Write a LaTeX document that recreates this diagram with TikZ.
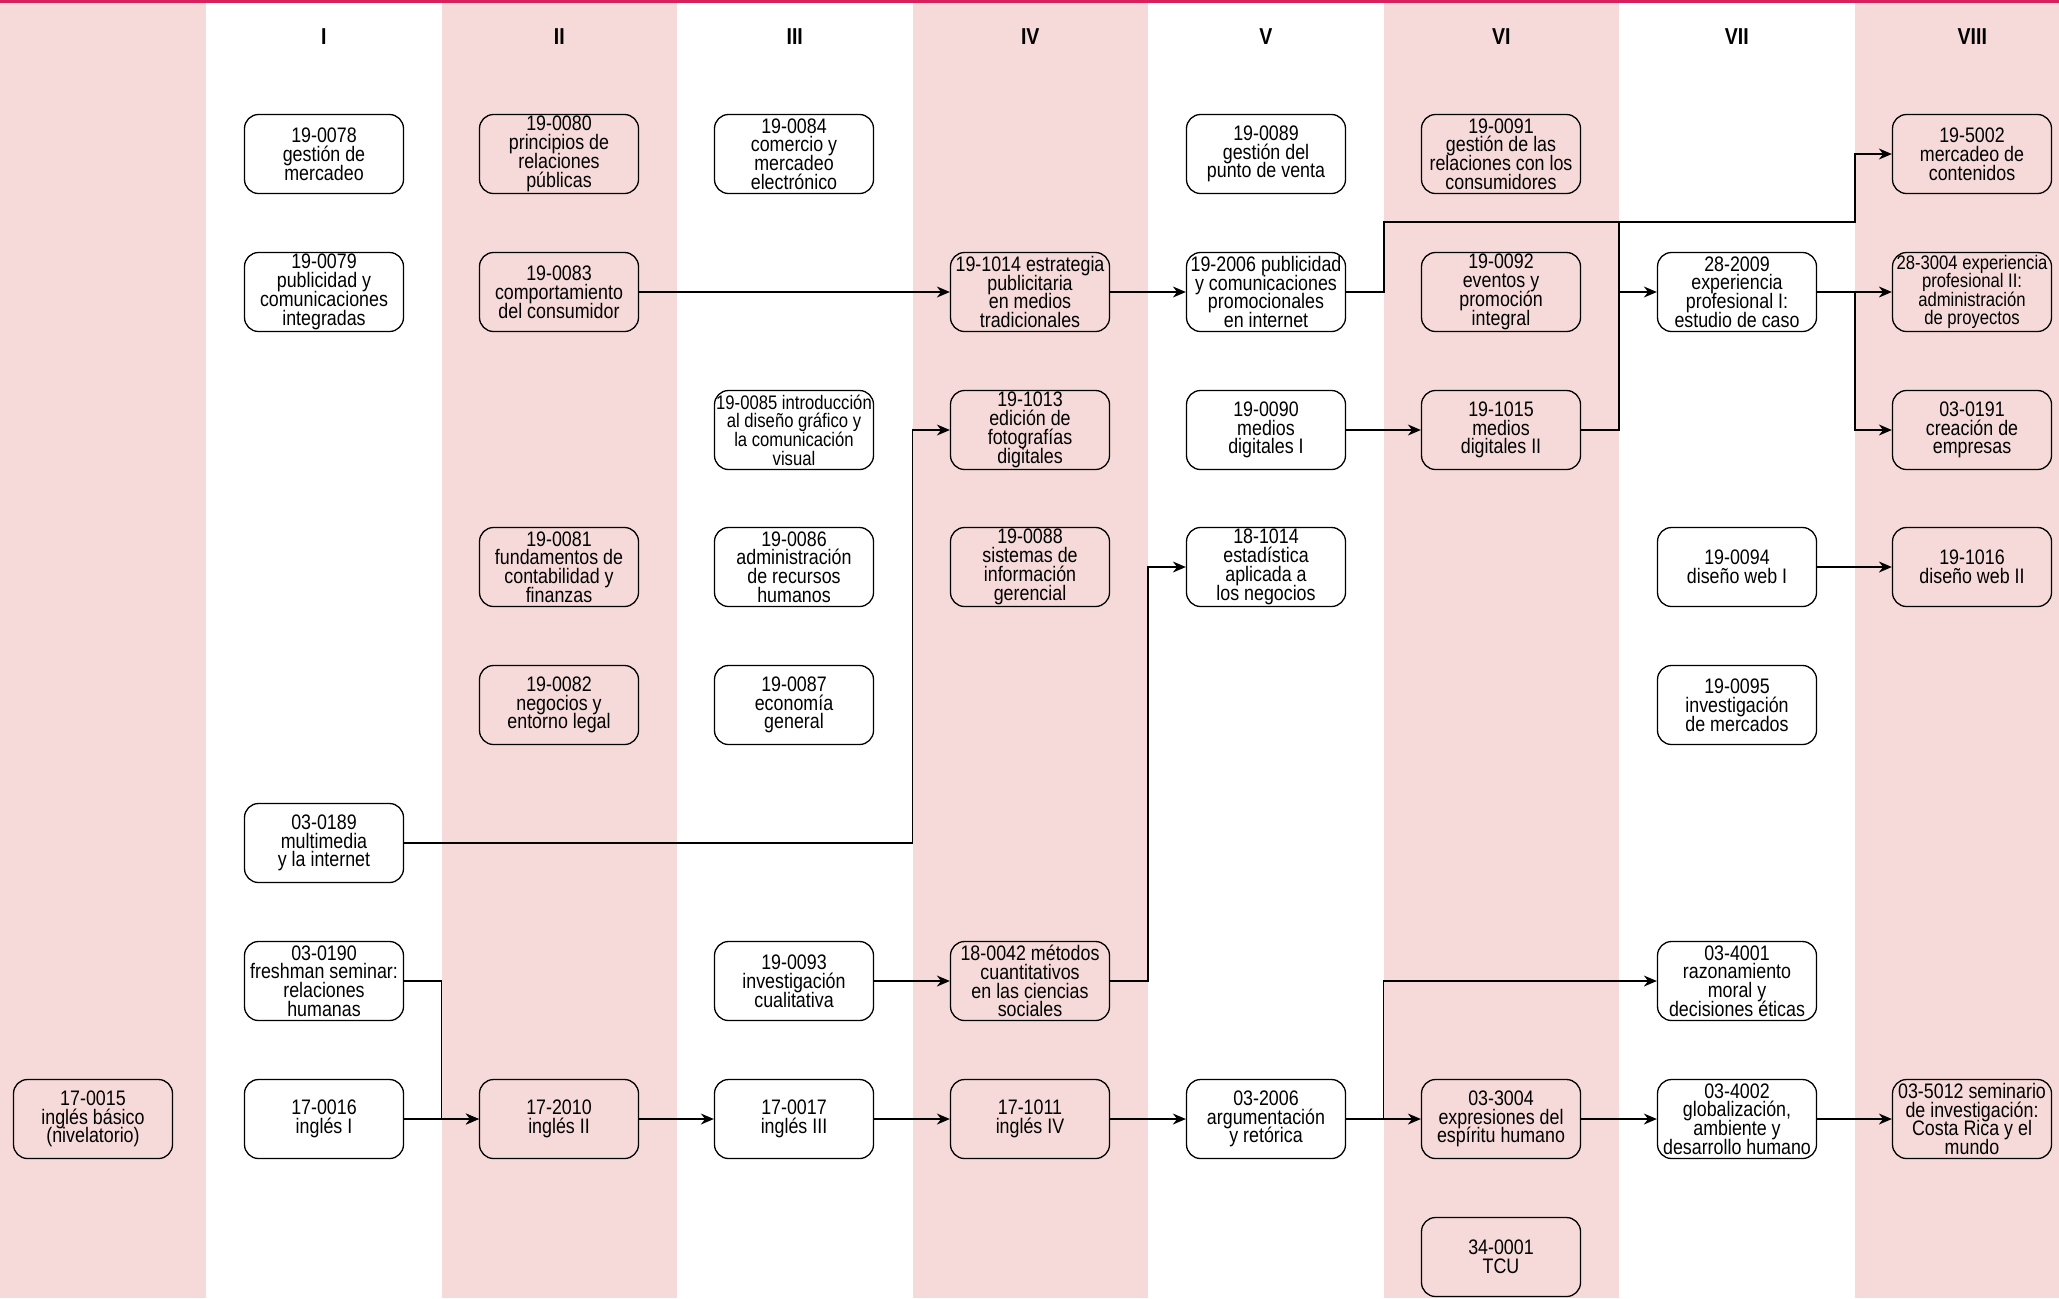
\documentclass[tikz,border=0pt]{standalone}
\usepackage{fontspec}
\setmainfont[FakeStretch=0.85]{Liberation Sans}
\usetikzlibrary{arrows.meta,positioning}
\definecolor{bandpink}{RGB}{245,218,217}
\definecolor{topline}{RGB}{216,32,92}
\newcommand\coursefont{\fontsize{10.5}{9.4}\selectfont\lineskiplimit=-20pt\relax}
\newcommand\smallcoursefont{\fontsize{9.8}{9.3}\selectfont\lineskiplimit=-20pt\relax}
\tikzstyle{course}=[rectangle,rounded corners=7pt,draw=black,line width=0.65pt,
  minimum width=79.5pt,minimum height=39.5pt,inner sep=0pt,align=center,
  font=\coursefont]
\tikzstyle{semester}=[font=\bfseries\fontsize{11.5}{12}\selectfont]

\begin{document}
\begin{tikzpicture}[x=0.5pt,y=-0.5pt,>={Stealth[length=6.5pt,width=5.5pt]},line width=0.7pt]
  \useasboundingbox (0,0) rectangle (2059,1298);
  % pink columns
  \fill[bandpink] (0,0) rectangle (206,1298);
  \foreach \xa in {441.5,912.5,1383.5,1854.5}
    \fill[bandpink] (\xa,0) rectangle ({min(\xa+235.5,2059)},1298);
  \fill[topline] (0,0) rectangle (2059,3);
  % semester headers
  \foreach \lab [count=\i from 0] in {I,II,III,IV,V,VI,VII,VIII}
    \node[semester] (sem\i) at ({323.75+235.5*\i},37) {\lab};

  % column 0
  \node[course] (c0015) at (93,1119) {17-0015\\inglés básico\\(nivelatorio)};
  % I
  \node[course] (c0078) at (324,154) {19-0078\\gestión de\\mercadeo};
  \node[course] (c0079) at (324,292) {19-0079\\publicidad y\\comunicaciones\\integradas};
  \node[course] (c0189) at (324,843) {03-0189\\multimedia\\y la internet};
  \node[course] (c0190) at (324,981) {03-0190\\freshman seminar:\\relaciones\\humanas};
  \node[course] (c0016) at (324,1119) {17-0016\\inglés I};
  % II
  \node[course] (c0080) at (559,154) {19-0080\\principios de\\relaciones\\públicas};
  \node[course] (c0083) at (559,292) {19-0083\\comportamiento\\del consumidor};
  \node[course] (c0081) at (559,567) {19-0081\\fundamentos de\\contabilidad y\\finanzas};
  \node[course] (c0082) at (559,705) {19-0082\\negocios y\\entorno legal};
  \node[course] (c2010) at (559,1119) {17-2010\\inglés II};
  % III
  \node[course] (c0084) at (794,154) {19-0084\\comercio y\\mercadeo\\electrónico};
  \node[course,font=\smallcoursefont] (c0085) at (794,430) {19-0085 introducción\\al diseño gráfico y\\la comunicación\\visual};
  \node[course] (c0086) at (794,567) {19-0086\\administración\\de recursos\\humanos};
  \node[course] (c0087) at (794,705) {19-0087\\economía\\general};
  \node[course] (c0093) at (794,981) {19-0093\\investigación\\cualitativa};
  \node[course] (c0017) at (794,1119) {17-0017\\inglés III};
  % IV
  \node[course] (c1014) at (1030,292) {19-1014 estrategia\\publicitaria\\en medios\\tradicionales};
  \node[course] (c1013) at (1030,430) {19-1013\\edición de\\fotografías\\digitales};
  \node[course] (c0088) at (1030,567) {19-0088\\sistemas de\\información\\gerencial};
  \node[course] (c0042) at (1030,981) {18-0042 métodos\\cuantitativos\\en las ciencias\\sociales};
  \node[course] (c1011) at (1030,1119) {17-1011\\inglés IV};
  % V
  \node[course] (c0089) at (1266,154) {19-0089\\gestión del\\punto de venta};
  \node[course] (c2006) at (1266,292) {19-2006 publicidad\\y comunicaciones\\promocionales\\en internet};
  \node[course] (c0090) at (1266,430) {19-0090\\medios\\digitales I};
  \node[course] (s1014) at (1266,567) {18-1014\\estadística\\aplicada a\\los negocios};
  \node[course] (h2006) at (1266,1119) {03-2006\\argumentación\\y retórica};
  % VI
  \node[course] (c0091) at (1501,154) {19-0091\\gestión de las\\relaciones con los\\consumidores};
  \node[course] (c0092) at (1501,292) {19-0092\\eventos y\\promoción\\integral};
  \node[course] (c1015) at (1501,430) {19-1015\\medios\\digitales II};
  \node[course] (h3004) at (1501,1119) {03-3004\\expresiones del\\espíritu humano};
  \node[course] (t0001) at (1501,1257) {34-0001\\TCU};
  % VII
  \node[course] (p2009) at (1737,292) {28-2009\\experiencia\\profesional I:\\estudio de caso};
  \node[course] (c0094) at (1737,567) {19-0094\\diseño web I};
  \node[course] (c0095) at (1737,705) {19-0095\\investigación\\de mercados};
  \node[course] (h4001) at (1737,981) {03-4001\\razonamiento\\moral y\\decisiones éticas};
  \node[course] (h4002) at (1737,1119) {03-4002\\globalización,\\ambiente y\\desarrollo humano};
  % VIII
  \node[course] (c5002) at (1972,154) {19-5002\\mercadeo de\\contenidos};
  \node[course,font=\smallcoursefont] (p3004) at (1972,292) {28-3004 experiencia\\profesional II:\\administración\\de proyectos};
  \node[course] (h0191) at (1972,430) {03-0191\\creación de\\empresas};
  \node[course] (c1016) at (1972,567) {19-1016\\diseño web II};
  \node[course] (h5012) at (1972,1119) {03-5012 seminario\\de investigación:\\Costa Rica y el\\mundo};

  % requisites
  \draw[->] (c0083) -- (c1014);
  \draw[->] (c1014) -- (c2006);
  \draw[->] (c2006.east) -| (1384,222) -| (1855,154) -- (c5002.west);
  \draw[->] (c0090) -- (c1015);
  \draw[->] (c1015.east) -| (1619,292) -- (p2009.west);
  \draw (1619,292) -- (1619,222);
  \draw[->] (p2009) -- (p3004);
  \draw[->] (1855,292) |- (h0191.west);
  \draw[->] (c0094) -- (c1016);
  \draw[->] (c0189.east) -| (912.5,430) -- (c1013.west);
  \draw[->] (c0093) -- (c0042);
  \draw[->] (c0042.east) -| (1148,567) -- (s1014.west);
  \draw[->] (c0190.east) -| (441.5,1119) -- (c2010.west);
  \draw[->] (c0016) -- (c2010);
  \draw[->] (c2010) -- (c0017);
  \draw[->] (c0017) -- (c1011);
  \draw[->] (c1011) -- (h2006);
  \draw[->] (h2006) -- (h3004);
  \draw[->] (1383.5,1119) |- (h4001.west);
  \draw[->] (h3004) -- (h4002);
  \draw[->] (h4002) -- (h5012);
\end{tikzpicture}
\end{document}
